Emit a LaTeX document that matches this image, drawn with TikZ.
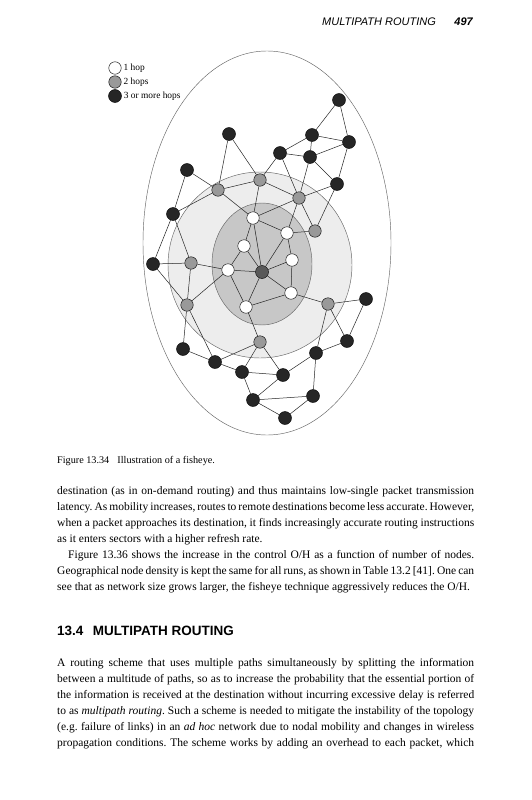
\documentclass[tikz,border=0pt]{standalone}
\usepackage{fontspec}
\setmainfont{Liberation Serif}
\setsansfont{Liberation Sans}
\usetikzlibrary{positioning}

\newcommand{\bodysize}{\fontsize{11.5}{16}\selectfont\frenchspacing}
\newcommand{\jline}[1]{\makebox[417pt][s]{#1}}

\tikzset{
    onehop/.style={circle, draw, thin, fill=white, minimum size=12.5pt, inner sep=0pt},
    twohop/.style={circle, draw, thin, fill=black!40, minimum size=12.5pt, inner sep=0pt},
    farhop/.style={circle, draw, thin, fill=black!85, minimum size=13pt, inner sep=0pt},
    srcnode/.style={circle, draw, thin, fill=black!65, minimum size=13pt, inner sep=0pt},
    link/.style={black!85, line width=0.5pt},
    ring/.style={draw=black!60, line width=0.45pt},
    keytext/.style={inner sep=0pt, font=\fontsize{9.4}{10}\selectfont},
    textline/.style={anchor=base west, inner sep=0pt, font=\bodysize}
}

\begin{document}
\begin{tikzpicture}[x=1pt, y=-1pt]
\useasboundingbox[fill=white] (0,0) rectangle (531,800);

% ===== Running head =====
\node[anchor=base west, inner sep=0pt, font=\sffamily\itshape\fontsize{11}{12}\selectfont] (head) at (322,26) {MULTIPATH ROUTING};
\node[anchor=base east, inner sep=0pt, font=\sffamily\bfseries\itshape\fontsize{11}{12}\selectfont] (folio) at (473,26) {497};

% ===== Fisheye scopes =====
\draw[ring] (267,243) ellipse [x radius=124, y radius=192];
\draw[ring, fill=black!7] (260,265) ellipse [x radius=92, y radius=93];
\draw[ring, fill=black!22] (262,264) ellipse [x radius=50, y radius=61];

% ===== Legend =====
\node[onehop] (k1) at (115,68) {};
\node[twohop] (k2) at (115,82) {};
\node[farhop] (k3) at (115,96) {};
\node[keytext, right=2pt of k1] (k1t) {1 hop};
\node[keytext, right=2pt of k2] (k2t) {2 hops};
\node[keytext, right=2pt of k3] (k3t) {3 or more hops};

% ===== Nodes =====
\node[srcnode] (c) at (262,272) {};
\node[onehop] (w1) at (253,218) {};
\node[onehop] (w2) at (287,233) {};
\node[onehop] (w3) at (244,246) {};
\node[onehop] (w4) at (292,260) {};
\node[onehop] (w5) at (228,270) {};
\node[onehop] (w6) at (291,293) {};
\node[onehop] (w7) at (246,307) {};
\node[twohop] (g1) at (260,180) {};
\node[twohop] (g2) at (218,190) {};
\node[twohop] (g3) at (299,198) {};
\node[twohop] (g4) at (315,231) {};
\node[twohop] (g5) at (191,263) {};
\node[twohop] (g6) at (187,305) {};
\node[twohop] (g7) at (328,304) {};
\node[twohop] (g8) at (260,342) {};
\node[farhop] (b1) at (339,100) {};
\node[farhop] (b2) at (312,135) {};
\node[farhop] (b3) at (349,142) {};
\node[farhop] (b4) at (229,134) {};
\node[farhop] (b5) at (280,153) {};
\node[farhop] (b6) at (310,157) {};
\node[farhop] (b7) at (187,170) {};
\node[farhop] (b8) at (337,184) {};
\node[farhop] (b9) at (173,214) {};
\node[farhop] (b10) at (153,264) {};
\node[farhop] (b11) at (366,299) {};
\node[farhop] (b12) at (183,349) {};
\node[farhop] (b13) at (347,341) {};
\node[farhop] (b14) at (215,362) {};
\node[farhop] (b15) at (316,353) {};
\node[farhop] (b16) at (242,372) {};
\node[farhop] (b17) at (283,375) {};
\node[farhop] (b18) at (253,400) {};
\node[farhop] (b19) at (313,396) {};
\node[farhop] (b20) at (285,418) {};

% ===== Links =====
\draw[link] (b1) -- (b2) -- (b3) -- (b1);
\draw[link] (b5) -- (b2) -- (b6) -- (b5);
\draw[link] (b6) -- (b3) -- (b8) -- (b6);
\draw[link] (b5) -- (g3) -- (b6);
\draw[link] (b8) -- (g3) -- (g4) -- (b8);
\draw[link] (b5) -- (g1) -- (g3) -- (w2);
\draw[link] (g3) -- (w1);
\draw[link] (b4) -- (g1) -- (g2) -- (b4);
\draw[link] (g1) -- (w1) -- (g2);
\draw[link] (b7) -- (g2) -- (b9) -- (b7);
\draw[link] (b9) -- (b10) -- (g5) -- (b9);
\draw[link] (b10) -- (g6) -- (g5);
\draw[link] (g5) -- (w5) -- (g6);
\draw[link] (w7) -- (w5) -- (w3) -- (w1) -- (c) -- (w3);
\draw[link] (w5) -- (c);
\draw[link] (w1) -- (w2) -- (g4);
\draw[link] (c) -- (w2) -- (w4) -- (c) -- (w6) -- (w4);
\draw[link] (c) -- (w7) -- (w6);
\draw[link] (w6) -- (g7) -- (b11) -- (b13) -- (g7) -- (b15) -- (b13);
\draw[link] (b17) -- (b15) -- (b19) -- (b20) -- (b18) -- (b19);
\draw[link] (b16) -- (b17) -- (b18) -- (b16);
\draw[link] (w7) -- (g8) -- (b17);
\draw[link] (b14) -- (g8) -- (b16) -- (b14);
\draw[link] (g6) -- (b12) -- (b14) -- (g6);

% ===== Caption and text =====
\node[textline, font=\fontsize{10.2}{12}\selectfont] (cap) at (57,463) {Figure 13.34\hspace{0.8em}Illustration of a fisheye.};
\node[textline] (t1) at (57,494) {\jline{destination (as in on-demand routing) and thus maintains low-single packet transmission}};
\node[textline] (t2) at (57,510) {\jline{latency. As mobility increases, routes to remote destinations become less accurate. However,}};
\node[textline] (t3) at (57,526) {\jline{when a packet approaches its destination, it finds increasingly accurate routing instructions}};
\node[textline] (t4) at (57,542) {as it enters sectors with a higher refresh rate.};
\node[textline] (t5) at (68,558) {\makebox[406pt][s]{Figure 13.36 shows the increase in the control O/H as a function of number of nodes.}};
\node[textline] (t6) at (57,574) {\jline{Geographical node density is kept the same for all runs, as shown in Table 13.2 [41]. One can}};
\node[textline] (t7) at (57,590) {see that as network size grows larger, the fisheye technique aggressively reduces the O/H.};

\node[anchor=base west, inner sep=0pt, font=\sffamily\bfseries\fontsize{13.5}{15}\selectfont] (sec) at (57,635) {13.4\hspace{0.7em}MULTIPATH ROUTING};

\node[textline] (u1) at (57,666) {\jline{A routing scheme that uses multiple paths simultaneously by splitting the information}};
\node[textline] (u2) at (57,682) {\jline{between a multitude of paths, so as to increase the probability that the essential portion of}};
\node[textline] (u3) at (57,698) {\jline{the information is received at the destination without incurring excessive delay is referred}};
\node[textline] (u4) at (57,714) {\jline{to as \textit{multipath routing}. Such a scheme is needed to mitigate the instability of the topology}};
\node[textline] (u5) at (57,730) {\jline{(e.g. failure of links) in an \textit{ad hoc} network due to nodal mobility and changes in wireless}};
\node[textline] (u6) at (57,746) {\jline{propagation conditions. The scheme works by adding an overhead to each packet, which}};

\end{tikzpicture}
\end{document}
